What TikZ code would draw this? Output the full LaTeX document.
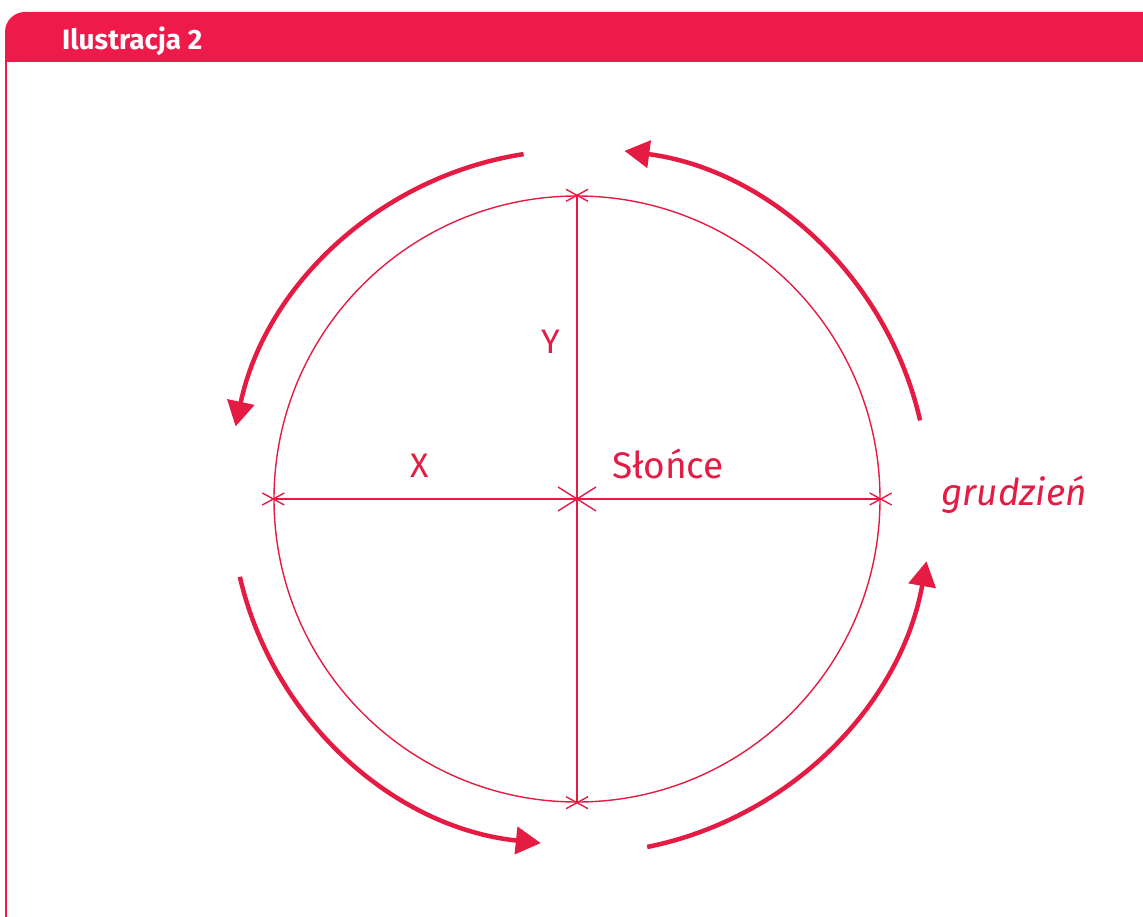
\documentclass[tikz,border=0pt]{standalone}
\usepackage{fontspec}
\setmainfont{Fira Sans}
\usetikzlibrary{arrows.meta}
\definecolor{hdr}{RGB}{237,26,74}
\definecolor{ink}{RGB}{228,28,68}
\tikzset{
  axis/.style={draw=ink, line width=1.4pt},
  tickmark/.style={draw=ink, line width=1.4pt},
  arr/.style={draw=ink, line width=4.5pt, -{Triangle[length=25pt,width=27pt]}},
  lbl/.style={text=ink, inner sep=0pt, anchor=base},
}
\begin{document}
\begin{tikzpicture}[x=1pt,y=-1pt]
\useasboundingbox (0,0) rectangle (1143,917);
% header
\fill[hdr] (5,62) -- (5,32) arc[start angle=180, end angle=270, radius=20] -- (1143,12) -- (1143,62) -- cycle;
\draw[draw=hdr, line width=1.5pt] (6,62) -- (6,917);
\node[text=white, inner sep=0pt, anchor=base west, font=\fontsize{28}{33}\selectfont\bfseries] (title) at (62,50) {Ilustracja 2};
% circle
\node[circle, draw=ink, line width=1.4pt, minimum size=606pt, inner sep=0pt] (sun) at (577,499) {};
\draw[axis] (sun.west) -- (sun.east);
\draw[axis] (sun.north) -- (sun.south);
\foreach \a in {north,south,east,west}
  \draw[tickmark] ([shift={(-11,-6)}]sun.\a) -- ([shift={(11,6)}]sun.\a)
                  ([shift={(-11,6)}]sun.\a) -- ([shift={(11,-6)}]sun.\a);
\draw[tickmark] ([shift={(-19,-12)}]sun.center) -- ([shift={(19,12)}]sun.center)
                ([shift={(-19,12)}]sun.center) -- ([shift={(19,-12)}]sun.center);
% labels
\node[lbl, font=\fontsize{34}{40}\selectfont] (ylab) at (551,353) {Y};
\node[lbl, font=\fontsize{34}{40}\selectfont] (xlab) at (420,477) {X};
\node[lbl, font=\fontsize{37}{42}\selectfont] (slonce) at (668,478) {Słońce};
\node[lbl, font=\fontsize{37}{42}\selectfont\itshape] (grudzien) at (1014,505) {grudzień};
% arrows
\draw[arr] ([shift={(-98.8:349)}]sun.center) arc[start angle=-98.8, end angle=-168, radius=349];
\draw[arr] ([shift={(-12.9:352)}]sun.center) arc[start angle=-12.9, end angle=-82.4, radius=351];
\draw[arr] ([shift={(-193:346)}]sun.center) arc[start angle=-193, end angle=-264, radius=346];
\draw[arr] ([shift={(-281.4:355)}]sun.center) arc[start angle=-281.4, end angle=-349.9, radius=355];
\end{tikzpicture}
\end{document}
